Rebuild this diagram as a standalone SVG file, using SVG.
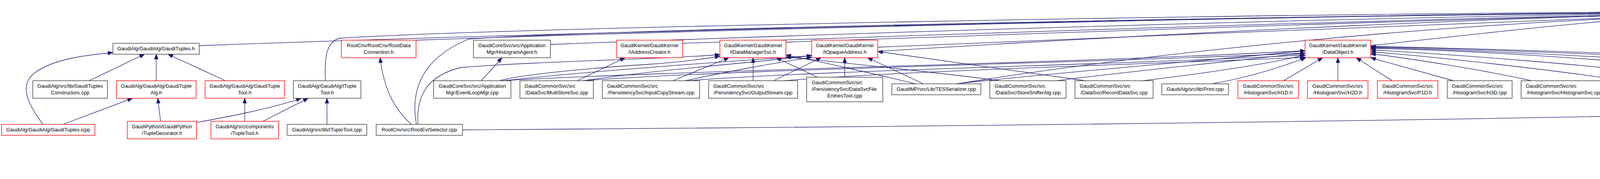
<svg xmlns="http://www.w3.org/2000/svg" width="6104" height="459" viewBox="0 0 6104 459">
<style>
.node rect{fill:#fff;stroke:#3a3a3a;stroke-width:1.4}
.node.r rect{stroke:#f00}
.node.g rect{fill:#bfbfbf}
text{font-family:"Liberation Sans",Arial,Helvetica,sans-serif;font-size:13px;fill:#000}
.c{text-anchor:middle}
#edges path{fill:none;stroke:#191970;stroke-width:1.3;marker-end:url(#a)}
</style>
<defs>
<marker id="a" viewBox="0 0 13 10" markerWidth="13" markerHeight="10" refX="13" refY="5" orient="auto" markerUnits="userSpaceOnUse">
<path d="M0,0 L13,5 L0,10 z" fill="#191970" stroke="#191970" stroke-width="1"/>
</marker>
</defs>
<rect width="6104" height="459" fill="#fff"/>
<g id="edges">
<path d="M110,319 C70,265 50,220 85,190 C130,152 220,141 289,135"/>
<path d="M161,319 L339,252"/>
<path d="M228,207 L370,139"/>
<path d="M400,207 L400,139"/>
<path d="M577,207 L430,139"/>
<path d="M411,311 L404,252"/>
<path d="M503,314 C570,302 690,280 771,252"/>
<path d="M626.5,311 L626.5,252"/>
<path d="M673,311 L789,252"/>
<path d="M837,319 L837,252"/>
<path d="M833,207 C830,150 835,106 870,98 C1300,70 3200,36 4302,30"/>
<path d="M510,117 C1400,84 3200,40 4302,31"/>
<path d="M1065,103 C1900,74 3300,40 4302,32"/>
<path d="M1053,319 C1010,280 983,230 973,148"/>
<path d="M1066,319 C1050,230 1080,150 1200,100 C1650,72 3300,40 4302,33"/>
<path d="M1070,319 C1065,250 1090,195 1180,173 C1400,156 1700,152 1843,140"/>
<path d="M1184,333 C2800,322 4600,298 4950,272 C5050,265 5110,257 5142,243"/>
<path d="M1409,114 C2100,88 3400,45 4302,34"/>
<path d="M1232,207 L1285,148"/>
<path d="M1279,207 C1330,192 1500,175 1660,165 C1760,158 1810,150 1843,144"/>
<path d="M1285,207 C1700,182 2800,160 3341,130"/>
<path d="M1290,207 C1800,150 3300,62 4302,35"/>
<path d="M1747,111 C2400,90 3500,50 4302,36"/>
<path d="M1478,207 L1600,148"/>
<path d="M1493,207 C1700,176 1950,160 2078,142"/>
<path d="M1497,207 C1850,178 2900,158 3341,136"/>
<path d="M1723,207 L1866,148"/>
<path d="M1754,207 C1860,184 1990,160 2078,147"/>
<path d="M1758,207 C2100,180 2900,165 3341,141"/>
<path d="M1928,207 L1928,148"/>
<path d="M1980,207 L2102,148"/>
<path d="M2007,207 C2300,182 3000,162 3341,147"/>
<path d="M2093,198 L1987,148"/>
<path d="M2162.5,198 L2162.5,148"/>
<path d="M2343,215 C2250,192 2100,158 2012,141"/>
<path d="M2364,215 L2221,148"/>
<path d="M2446,215 C2700,186 3100,155 3341,130"/>
<path d="M2450,215 C2800,158 3500,70 4302,40"/>
<path d="M2561,207 C2400,186 2150,160 2012,146"/>
<path d="M2704,207 C2900,182 3200,152 3341,136"/>
<path d="M2779,207 L2247,132"/>
<path d="M2925,207 C3100,186 3250,163 3341,141"/>
<path d="M3102,215 C3200,198 3290,168 3343,148"/>
<path d="M3286,207 L3386,148"/>
<path d="M3425,207 L3425,148"/>
<path d="M3564,207 L3472,148"/>
<path d="M3721,207 L3509,148"/>
<path d="M3921,207 C3800,180 3600,148 3509,138"/>
<path d="M4161,207 C3950,176 3650,143 3509,133"/>
<path d="M4327,198 C4100,168 3700,138 3509,128"/>
<path d="M4661,215 C4300,160 3800,130 3509,124"/>
<path d="M4896,215 C4500,160 3800,128 3509,122"/>
<path d="M5140,215 C4700,158 3850,127 3509,120"/>
<path d="M5345,207 C4900,160 3900,126 3509,119"/>
<path d="M3509,117 C3800,85 4100,50 4302,42"/>
<path d="M2247,121 C2900,95 3800,55 4302,39"/>
<path d="M2012,108 C2700,85 3700,48 4302,37"/>
<path d="M4479,103 L4425,52"/>
<path d="M4717,105 C4640,87 4560,66 4470,48"/>
<path d="M4959,103 C4800,80 4600,55 4470,45"/>
<path d="M5152,102 C4900,70 4650,48 4470,42"/>
<path d="M5344,102 C5000,68 4700,45 4470,39"/>
<path d="M5535,103 C5200,68 4800,44 4470,36"/>
<path d="M5727,103 C5300,62 4800,40 4470,33"/>
<path d="M5919,103 C5400,60 4850,38 4470,30"/>
<path d="M4896,215 C4780,185 4700,160 4660,135 C4615,102 4545,68 4470,51"/>
<path d="M5353,207 C5150,175 4780,168 4710,150 C4640,130 4600,72 4470,49"/>
<path d="M5700,311 C5725,240 5700,180 5580,168 C5300,150 4990,175 4930,130 C4880,80 4700,46 4470,37"/>
<path d="M5777,207 C5500,180 5250,165 5128,147"/>
<path d="M5780,207 C5550,185 5200,185 4950,178 C4700,170 4560,120 4470,50"/>
<path d="M5542,207 C5300,185 4800,165 4592,147"/>
<path d="M5548,207 C5200,186 4520,182 4410,162 C4360,150 4350,100 4373,52"/>
<path d="M5152,215 C5000,172 4520,172 4420,147 C4390,135 4384,95 4384,52"/>
<path d="M5503,407 L5430,252"/>
<path d="M5628,311 L5481,252"/>
<path d="M5524,407 L5589,252"/>
<path d="M5557,407 L5641,356"/>
<path d="M5689,407 L5689,356"/>
</g>
<g id="n_classid" class="node g"><rect x="4302" y="7" width="168" height="45"/><text x="4386" y="25" class="c">GaudiKernel/GaudiKernel</text><text x="4386" y="42" class="c">/ClassID.h</text></g>
<g id="n_gaudituples_h" class="node"><rect x="289" y="111" width="221" height="28"/><text x="399.5" y="129" class="c">GaudiAlg/GaudiAlg/GaudiTuples.h</text></g>
<g id="n_rootdataconnection" class="node r"><rect x="874" y="103" width="191" height="45"/><text x="969.5" y="121" class="c">RootCnv/RootCnv/RootData</text><text x="969.5" y="138" class="c">Connection.h</text></g>
<g id="n_histogramagent" class="node"><rect x="1212" y="103" width="197" height="45"/><text x="1310.5" y="121" class="c">GaudiCoreSvc/src/Application</text><text x="1310.5" y="138" class="c">Mgr/HistogramAgent.h</text></g>
<g id="n_iaddresscreator" class="node r"><rect x="1578" y="103" width="169" height="45"/><text x="1662.5" y="121" class="c">GaudiKernel/GaudiKernel</text><text x="1662.5" y="138" class="c">/IAddressCreator.h</text></g>
<g id="n_idatamanagersvc" class="node r"><rect x="1843" y="103" width="169" height="45"/><text x="1927.5" y="121" class="c">GaudiKernel/GaudiKernel</text><text x="1927.5" y="138" class="c">/IDataManagerSvc.h</text></g>
<g id="n_iopaqueaddress" class="node r"><rect x="2078" y="103" width="169" height="45"/><text x="2162.5" y="121" class="c">GaudiKernel/GaudiKernel</text><text x="2162.5" y="138" class="c">/IOpaqueAddress.h</text></g>
<g id="n_dataobject" class="node r"><rect x="3341" y="103" width="168" height="45"/><text x="3425" y="121" class="c">GaudiKernel/GaudiKernel</text><text x="3425" y="138" class="c">/DataObject.h</text></g>
<g id="n_ihistorysvc" class="node r"><rect x="4423" y="103" width="169" height="45"/><text x="4507.5" y="121" class="c">GaudiKernel/GaudiKernel</text><text x="4507.5" y="138" class="c">/IHistorySvc.h</text></g>
<g id="n_iconverter" class="node r"><rect x="4717" y="103" width="168" height="45"/><text x="4801" y="121" class="c">GaudiKernel/GaudiKernel</text><text x="4801" y="138" class="c">/IConverter.h</text></g>
<g id="n_ifilemgr" class="node r"><rect x="4959" y="103" width="169" height="45"/><text x="5043.5" y="121" class="c">GaudiKernel/GaudiKernel</text><text x="5043.5" y="138" class="c">/IFileMgr.h</text></g>
<g id="n_intuplesvc" class="node r"><rect x="5152" y="103" width="168" height="45"/><text x="5236" y="121" class="c">GaudiKernel/GaudiKernel</text><text x="5236" y="138" class="c">/INTupleSvc.h</text></g>
<g id="n_keyedobjectmanager" class="node r"><rect x="5344" y="103" width="168" height="45"/><text x="5428" y="121" class="c">GaudiKernel/GaudiKernel</text><text x="5428" y="138" class="c">/KeyedObjectManager.h</text></g>
<g id="n_objectlist" class="node r"><rect x="5535" y="103" width="169" height="45"/><text x="5619.5" y="121" class="c">GaudiKernel/GaudiKernel</text><text x="5619.5" y="138" class="c">/ObjectList.h</text></g>
<g id="n_objectvector" class="node r"><rect x="5727" y="103" width="169" height="45"/><text x="5811.5" y="121" class="c">GaudiKernel/GaudiKernel</text><text x="5811.5" y="138" class="c">/ObjectVector.h</text></g>
<g id="n_sharedobjectscontainer" class="node"><rect x="5919" y="103" width="180" height="45"/><text x="5931" y="121">GaudiKernel/GaudiKernel</text><text x="6009" y="138" class="c">/SharedObjectsContainer.h</text></g>
<g id="n_gaudituplesconstructors" class="node"><rect x="84" y="207" width="191" height="45"/><text x="179.5" y="225" class="c">GaudiAlg/src/lib/GaudiTuples</text><text x="179.5" y="242" class="c">Constructors.cpp</text></g>
<g id="n_gaudituplealg" class="node r"><rect x="298" y="207" width="204" height="45"/><text x="400" y="225" class="c">GaudiAlg/GaudiAlg/GaudiTuple</text><text x="400" y="242" class="c">Alg.h</text></g>
<g id="n_gauditupletool_h" class="node r"><rect x="525" y="207" width="203" height="45"/><text x="626.5" y="225" class="c">GaudiAlg/GaudiAlg/GaudiTuple</text><text x="626.5" y="242" class="c">Tool.h</text></g>
<g id="n_ituppletool_h" class="node"><rect x="751" y="207" width="173" height="45"/><text x="837.5" y="225" class="c">GaudiAlg/GaudiAlg/ITuple</text><text x="837.5" y="242" class="c">Tool.h</text></g>
<g id="n_eventloopmgr" class="node"><rect x="1110" y="207" width="198" height="45"/><text x="1209" y="225" class="c">GaudiCoreSvc/src/Application</text><text x="1209" y="242" class="c">Mgr/EventLoopMgr.cpp</text></g>
<g id="n_multistoresvc" class="node"><rect x="1331" y="207" width="188" height="45"/><text x="1343" y="225">GaudiCommonSvc/src</text><text x="1425" y="242" class="c">/DataSvc/MultiStoreSvc.cpp</text></g>
<g id="n_inputcopystream" class="node"><rect x="1542" y="207" width="249" height="45"/><text x="1554" y="225">GaudiCommonSvc/src</text><text x="1666.5" y="242" class="c">/PersistencySvc/InputCopyStream.cpp</text></g>
<g id="n_outputstream" class="node"><rect x="1814" y="207" width="228" height="45"/><text x="1826" y="225">GaudiCommonSvc/src</text><text x="1928" y="242" class="c">/PersistencySvc/OutputStream.cpp</text></g>
<g id="n_datasvcfileentriestool" class="node"><rect x="2065" y="198" width="195" height="63"/><text x="2078" y="216">GaudiCommonSvc/src</text><text x="2078" y="233">/PersistencySvc/DataSvcFile</text><text x="2162.5" y="250" class="c">EntriesTool.cpp</text></g>
<g id="n_tesserializer" class="node"><rect x="2283" y="215" width="228" height="28"/><text x="2397" y="233" class="c">GaudiMP/src/Lib/TESSerializer.cpp</text></g>
<g id="n_storesnifferalg" class="node"><rect x="2534" y="207" width="195" height="45"/><text x="2546" y="225">GaudiCommonSvc/src</text><text x="2631.5" y="242" class="c">/DataSvc/StoreSnifferAlg.cpp</text></g>
<g id="n_recorddatasvc" class="node"><rect x="2752" y="207" width="200" height="45"/><text x="2764" y="225">GaudiCommonSvc/src</text><text x="2852" y="242" class="c">/DataSvc/RecordDataSvc.cpp</text></g>
<g id="n_print" class="node"><rect x="2974" y="215" width="171" height="28"/><text x="3059.5" y="233" class="c">GaudiAlg/src/lib/Print.cpp</text></g>
<g id="n_h1d" class="node r"><rect x="3169" y="207" width="155" height="45"/><text x="3246.5" y="225" class="c">GaudiCommonSvc/src</text><text x="3246.5" y="242" class="c">/HistogramSvc/H1D.h</text></g>
<g id="n_h2d" class="node r"><rect x="3347" y="207" width="155" height="45"/><text x="3424.5" y="225" class="c">GaudiCommonSvc/src</text><text x="3424.5" y="242" class="c">/HistogramSvc/H2D.h</text></g>
<g id="n_p1d" class="node r"><rect x="3526" y="207" width="155" height="45"/><text x="3603.5" y="225" class="c">GaudiCommonSvc/src</text><text x="3603.5" y="242" class="c">/HistogramSvc/P1D.h</text></g>
<g id="n_h3d" class="node"><rect x="3705" y="207" width="166" height="45"/><text x="3717" y="225">GaudiCommonSvc/src</text><text x="3788" y="242" class="c">/HistogramSvc/H3D.cpp</text></g>
<g id="n_histogramsvc" class="node"><rect x="3894" y="207" width="222" height="45"/><text x="3906" y="225">GaudiCommonSvc/src</text><text x="4005" y="242" class="c">/HistogramSvc/HistogramSvc.cpp</text></g>
<g id="n_p2d" class="node"><rect x="4139" y="207" width="164" height="45"/><text x="4151" y="225">GaudiCommonSvc/src</text><text x="4221" y="242" class="c">/HistogramSvc/P2D.cpp</text></g>
<g id="n_histogrampersistencysvc" class="node"><rect x="4327" y="198" width="250" height="63"/><text x="4340" y="216">GaudiCommonSvc/src</text><text x="4340" y="233">/PersistencySvc/HistogramPersistency</text><text x="4452" y="250" class="c">Svc.cpp</text></g>
<g id="n_gauditool" class="node r"><rect x="4600" y="215" width="207" height="28"/><text x="4703.5" y="233" class="c">GaudiAlg/GaudiAlg/GaudiTool.h</text></g>
<g id="n_gaudialgorithm" class="node"><rect x="4830" y="215" width="233" height="28"/><text x="4946.5" y="233" class="c">GaudiAlg/src/lib/GaudiAlgorithm.cpp</text></g>
<g id="n_rootcnvsvc" class="node r"><rect x="5086" y="215" width="220" height="28"/><text x="5196" y="233" class="c">RootCnv/RootCnv/RootCnvSvc.h</text></g>
<g id="n_historyobj" class="node r"><rect x="5329" y="207" width="168" height="45"/><text x="5413" y="225" class="c">GaudiKernel/GaudiKernel</text><text x="5413" y="242" class="c">/HistoryObj.h</text></g>
<g id="n_historysvc_h" class="node"><rect x="5521" y="207" width="166" height="45"/><text x="5604" y="225" class="c">GaudiMonitor/src/History</text><text x="5604" y="242" class="c">Svc.h</text></g>
<g id="n_filemgr_h" class="node r"><rect x="5760" y="207" width="148" height="45"/><text x="5834" y="225" class="c">GaudiSvc/src/FileMgr</text><text x="5834" y="242" class="c">/FileMgr.h</text></g>
<g id="n_gaudituples_icpp" class="node r"><rect x="4" y="319" width="239" height="28"/><text x="123.5" y="337" class="c">GaudiAlg/GaudiAlg/GaudiTuples.icpp</text></g>
<g id="n_tupledecorator" class="node r"><rect x="326" y="311" width="177" height="45"/><text x="414.5" y="329" class="c">GaudiPython/GaudiPython</text><text x="414.5" y="346" class="c">/TupleDecorator.h</text></g>
<g id="n_tupletool_h" class="node r"><rect x="540" y="311" width="173" height="45"/><text x="626.5" y="329" class="c">GaudiAlg/src/components</text><text x="626.5" y="346" class="c">/TupleTool.h</text></g>
<g id="n_ituppletool_cpp" class="node"><rect x="735" y="319" width="204" height="28"/><text x="837" y="337" class="c">GaudiAlg/src/lib/ITupleTool.cpp</text></g>
<g id="n_rootevtselector" class="node"><rect x="963" y="319" width="221" height="28"/><text x="1073.5" y="337" class="c">RootCnv/src/RootEvtSelector.cpp</text></g>
<g id="n_datahistory_h" class="node"><rect x="5605" y="311" width="168" height="45"/><text x="5689" y="329" class="c">GaudiKernel/GaudiKernel</text><text x="5689" y="346" class="c">/DataHistory.h</text></g>
<g id="n_historysvc_cpp" class="node"><rect x="5431" y="407" width="167" height="45"/><text x="5514.5" y="425" class="c">GaudiMonitor/src/History</text><text x="5514.5" y="442" class="c">Svc.cpp</text></g>
<g id="n_datahistory_cpp" class="node"><rect x="5621" y="407" width="136" height="45"/><text x="5689" y="425" class="c">GaudiKernel/src/Lib</text><text x="5689" y="442" class="c">/DataHistory.cpp</text></g>
</svg>
